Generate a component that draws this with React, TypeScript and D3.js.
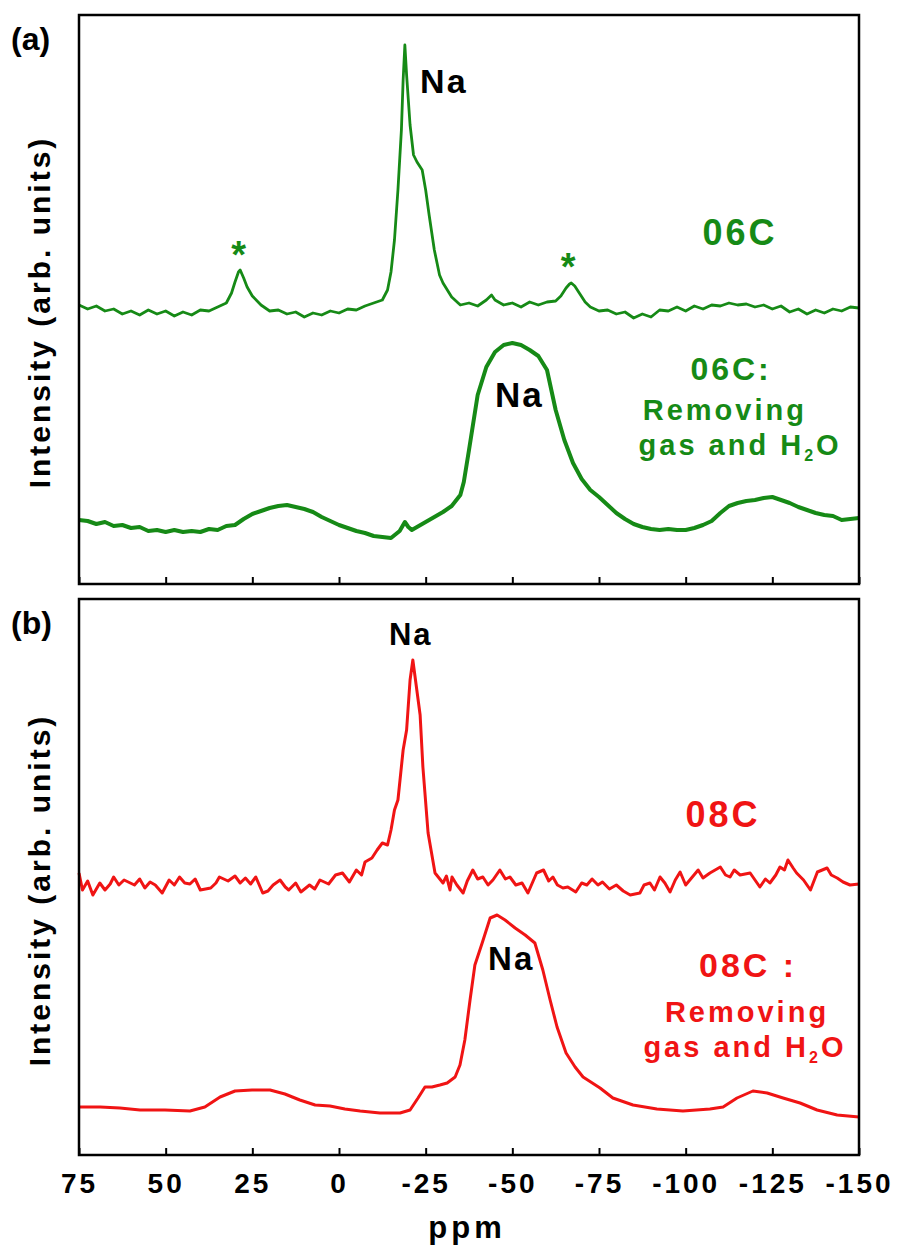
import React, { useEffect, useRef } from 'react';
import * as d3 from 'd3';

// x ticks (ppm)
const ppmTicks = [75, 50, 25, 0, -25, -50, -75, -100, -125, -150];

// panel (a) : 06C as prepared, [ppm, intensity]
const s06C = [
  [75, 279], [72.5, 275], [70, 278], [67.5, 273], [65, 275], [62.5, 270], [60, 273], [57.5, 269],
  [55, 274], [52.5, 270], [50, 273], [47.5, 268], [45, 272], [42.5, 269], [40, 274], [37.5, 273],
  [35, 277], [32.5, 281], [31, 291], [30, 302], [29, 312], [28.5, 314], [27.5, 306], [26.5, 297],
  [25, 288], [22.5, 279], [20, 273], [17.5, 274], [15, 270], [12.5, 272], [10, 267], [7.5, 271],
  [5, 269], [2.5, 273], [0, 271], [-2.5, 275], [-5, 274], [-7.5, 278], [-10, 281], [-12.5, 284],
  [-14, 294], [-15, 312], [-16, 344], [-17, 394], [-18, 454], [-18.5, 504], [-19, 539], [-19.5, 509],
  [-20.5, 459], [-21.5, 429], [-22.5, 422], [-24, 414], [-25, 394], [-26, 369], [-27.5, 334], [-29, 309],
  [-30, 301], [-32.5, 287], [-35, 279], [-37.5, 281], [-40, 278], [-42.5, 284], [-44, 289], [-45, 284],
  [-47.5, 279], [-50, 281], [-52.5, 277], [-55, 282], [-57.5, 279], [-60, 282], [-62.5, 283], [-64, 288],
  [-65.5, 296], [-66.5, 300], [-67, 301], [-68, 298], [-69.5, 290], [-71, 282], [-72.5, 277], [-75, 273],
  [-77.5, 274], [-80, 270], [-82.5, 272], [-85, 266], [-87.5, 270], [-90, 267], [-92.5, 274], [-95, 273],
  [-97.5, 277], [-100, 273], [-102.5, 278], [-105, 275], [-107.5, 279], [-110, 278], [-112.5, 281], [-115, 279],
  [-117.5, 280], [-120, 277], [-122.5, 279], [-125, 275], [-127.5, 278], [-130, 272], [-132.5, 275], [-135, 270],
  [-137.5, 274], [-140, 271], [-142.5, 275], [-145, 273], [-147.5, 277], [-150, 276],
];

// panel (a) : 06C after removing gas and H2O
const s06CDry = [
  [75, 64], [72.5, 63], [70, 60], [67.5, 62], [65, 58], [62.5, 59], [60, 56], [57.5, 57],
  [55, 53], [52.5, 54], [50, 52], [47.5, 54], [45, 52], [42.5, 53], [40, 52], [37.5, 55],
  [35, 54], [32.5, 58], [30, 59], [27.5, 65], [25, 70], [22.5, 73], [20, 76], [17.5, 78],
  [15, 79], [12.5, 77], [10, 75], [7.5, 72], [5, 67], [2.5, 63], [0, 59], [-2.5, 56],
  [-5, 53], [-7.5, 51], [-10, 48], [-12.5, 47], [-15, 46], [-17.5, 53], [-19, 62], [-20, 57],
  [-21, 54], [-22.5, 57], [-25, 62], [-27.5, 67], [-30, 72], [-32.5, 78], [-35, 89], [-36, 102],
  [-37.5, 134], [-40, 189], [-42.5, 217], [-45, 232], [-47.5, 239], [-50, 241], [-52.5, 239], [-55, 234],
  [-57.5, 228], [-60, 214], [-62.5, 174], [-65, 144], [-67.5, 121], [-70, 105], [-72.5, 94], [-75, 87],
  [-77.5, 79], [-80, 71], [-82.5, 65], [-85, 60], [-87.5, 57], [-90, 55], [-92.5, 54], [-95, 55],
  [-97.5, 54], [-100, 54], [-102.5, 56], [-105, 59], [-107.5, 63], [-110, 71], [-112.5, 78], [-115, 81],
  [-117.5, 83], [-120, 84], [-122.5, 86], [-125, 87], [-127.5, 84], [-130, 81], [-132.5, 77], [-135, 74],
  [-137.5, 71], [-140, 69], [-142.5, 68], [-145, 64], [-147.5, 65], [-150, 66],
];

// panel (b) : 08C as prepared
const s08C = [
  [75, 282], [74, 265], [72.5, 274], [71, 260], [69, 272], [67.5, 265], [66, 271], [65, 278], [63.5, 270], [62, 275], [59, 270],
  [57.5, 276], [56, 267], [54.5, 273], [53, 270], [51, 262], [49, 275], [47.5, 270], [46, 278], [44.5, 272], [43, 271], [41.5, 276], [40, 265], [37, 267],
  [35.5, 272], [34.5, 278], [32, 274], [30, 279], [28.5, 272], [27, 277], [25.5, 271], [24, 278], [22, 262], [20.5, 264], [19, 270], [17, 275], [15.5, 268], [14.5, 265],
  [12.5, 272], [11, 263], [8.5, 270], [7, 266], [5.5, 275], [3, 271], [1, 280], [-1, 282], [-3, 273], [-5, 285], [-6.5, 280], [-7.5, 293],
  [-9.5, 297], [-11, 305], [-12.5, 312], [-14, 310], [-15, 325], [-16, 345], [-17, 355], [-18.5, 405],
  [-19.5, 425], [-20.5, 475], [-21.3, 495], [-23.4, 440], [-24.2, 388], [-25.7, 322], [-27.7, 282], [-30, 272],
  [-31, 279], [-32, 265], [-32.6, 278], [-34, 270], [-35.8, 262], [-37, 274], [-38.6, 285], [-40, 276], [-41.5, 278], [-43, 270], [-44.4, 275], [-46.4, 285], [-48, 276], [-49.3, 278],
  [-51, 270], [-52.8, 272], [-54.5, 262], [-57, 282], [-59, 285], [-60.5, 274], [-61.7, 278], [-63, 270], [-64.6, 267], [-66, 268], [-68.3, 263],
  [-70, 272], [-71.5, 270], [-73, 276], [-74.7, 270], [-76, 273], [-78, 266], [-80, 270], [-82, 264], [-84, 260], [-86.8, 262], [-88, 270], [-89.7, 272], [-91, 265], [-92.6, 278],
  [-94, 272], [-95.5, 263], [-97, 275], [-98.4, 283], [-100, 270], [-101.2, 275], [-103.6, 285], [-105, 277], [-107, 282], [-110, 288], [-111.5, 280], [-112.8, 278], [-114, 285], [-115.7, 280],
  [-118.6, 282], [-120, 275], [-121.4, 268], [-123, 276], [-124.3, 272], [-126, 280], [-127.2, 288], [-128.5, 285], [-129.5, 295], [-131, 287], [-132, 282], [-134, 275], [-136, 265],
  [-138, 283], [-140.8, 287], [-142, 280], [-143.7, 277], [-145.4, 273], [-147.4, 270], [-150, 271],
];

// panel (b) : 08C after removing gas and H2O
const s08CDry = [
  [75, 48], [68.9, 48], [63.2, 47], [57.4, 45], [50.2, 45], [43, 44], [38.7, 48], [34.3, 58],
  [30, 64], [25.1, 65], [19.9, 65], [15.6, 61], [11.3, 55], [6.9, 50], [2.6, 49], [-1.7, 46],
  [-6.1, 44], [-11.8, 42], [-17.6, 42], [-20.5, 45], [-22.8, 57], [-24.8, 68], [-26.8, 68], [-29.1, 70],
  [-31.2, 72], [-33.5, 78], [-34.9, 90], [-36.3, 115], [-37.8, 155], [-39.2, 190], [-41.3, 212], [-43.6, 237],
  [-45.6, 240], [-47.9, 235], [-50.8, 227], [-53.7, 220], [-56.5, 212], [-58.8, 185], [-60.9, 155], [-62.9, 128],
  [-65.5, 102], [-68.1, 88], [-70.4, 78], [-75.3, 67], [-79, 57], [-84.8, 50], [-91.7, 46], [-99.2, 44],
  [-107, 46], [-110.8, 48], [-114.8, 57], [-119.4, 64], [-123.5, 62], [-128.1, 57], [-133, 52], [-137.9, 45],
  [-143.7, 40], [-150, 38],
];

// annotations, placed in data coordinates [ppm, intensity]
const notesA = [
  { text: 'Na', ppm: -23.4, v: 491, size: 34, color: '#000', anchor: 'start' },
  { text: '*', ppm: 28.5, v: 316, size: 38, color: 'green', anchor: 'middle' },
  { text: '*', ppm: -66.5, v: 304, size: 38, color: 'green', anchor: 'middle' },
  { text: '06C', ppm: -115.7, v: 339, size: 36, color: 'green', anchor: 'middle' },
  { text: '06C:', ppm: -113.1, v: 204, size: 32, color: 'green', anchor: 'middle' },
  { text: 'Removing', ppm: -111.3, v: 164, size: 29, color: 'green', anchor: 'middle' },
  { text: 'H2O', ppm: -115.7, v: 129, size: 29, color: 'green', anchor: 'middle' },
  { text: 'Na', ppm: -45, v: 177, size: 35, color: '#000', anchor: 'start' },
];
const notesB = [
  { text: 'Na', ppm: -14.4, v: 510, size: 31, color: '#000', anchor: 'start' },
  { text: '08C', ppm: -110.8, v: 328, size: 36, color: 'red', anchor: 'middle' },
  { text: '08C :', ppm: -118, v: 178, size: 34, color: 'red', anchor: 'middle' },
  { text: 'Removing', ppm: -117.7, v: 133, size: 29, color: 'red', anchor: 'middle' },
  { text: 'H2O', ppm: -117.1, v: 98, size: 29, color: 'red', anchor: 'middle' },
  { text: 'Na', ppm: -43, v: 185, size: 33, color: '#000', anchor: 'start' },
];

const COLORS = { green: '#168a16', red: '#f01414' };
const FONT = '"Liberation Sans", Arial, Helvetica, sans-serif';

const App = () => {
  const svgRef = useRef();

  useEffect(() => {
    const svg = d3.select(svgRef.current);
    svg.selectAll('*').remove();

    const left = 79;
    const right = 859;

    const x = d3.scaleLinear().domain([75, -150]).range([left, right]);

    const panels = [
      { tag: '(a)', top: 15, bottom: 584, yMax: 569, labelY: 312,
        series: [{ data: s06C, color: COLORS.green, width: 2.8 }, { data: s06CDry, color: COLORS.green, width: 4 }],
        notes: notesA, showLabels: false },
      { tag: '(b)', top: 599, bottom: 1155, yMax: 556, labelY: 890,
        series: [{ data: s08C, color: COLORS.red, width: 3 }, { data: s08CDry, color: COLORS.red, width: 3 }],
        notes: notesB, showLabels: true },
    ];

    panels.forEach(p => {
      const y = d3.scaleLinear().domain([0, p.yMax]).range([p.bottom, p.top]);
      const g = svg.append('g');

      // curves
      const line = d3.line()
        .x(d => x(d[0]))
        .y(d => y(d[1]));

      p.series.forEach(s => {
        g.append('path')
          .datum(s.data)
          .attr('fill', 'none')
          .attr('stroke', s.color)
          .attr('stroke-width', s.width)
          .attr('stroke-linejoin', 'round')
          .attr('d', line);
      });

      // bottom axis, ticks pointing inward
      const axis = g.append('g')
        .attr('transform', `translate(0,${p.bottom})`)
        .call(d3.axisBottom(x)
          .tickValues(ppmTicks)
          .tickSizeInner(-7)
          .tickSizeOuter(0)
          .tickPadding(18)
          .tickFormat(p.showLabels ? d3.format('d') : () => ''));
      axis.select('.domain').remove();
      axis.selectAll('line').attr('stroke', '#000').attr('stroke-width', 2);
      axis.selectAll('text')
        .attr('fill', '#000')
        .style('font-family', FONT)
        .style('font-weight', 'bold')
        .style('font-size', '28px')
        .style('letter-spacing', '3px')
        .text(d => (p.showLabels ? String(d) : ''));

      // frame
      g.append('rect')
        .attr('x', left)
        .attr('y', p.top)
        .attr('width', right - left)
        .attr('height', p.bottom - p.top)
        .attr('fill', 'none')
        .attr('stroke', '#000')
        .attr('stroke-width', 2.5);

      // panel tag
      g.append('text')
        .attr('x', 11)
        .attr('y', p.top + 35)
        .style('font-family', FONT)
        .style('font-weight', 'bold')
        .style('font-size', '32px')
        .text(p.tag);

      // y axis label
      g.append('text')
        .attr('transform', `translate(50,${p.labelY}) rotate(-90)`)
        .attr('text-anchor', 'middle')
        .style('font-family', FONT)
        .style('font-weight', 'bold')
        .style('font-size', '30px')
        .style('letter-spacing', '3px')
        .text('Intensity (arb. units)');

      // annotations
      p.notes.forEach(n => {
        const t = g.append('text')
          .attr('x', x(n.ppm))
          .attr('y', y(n.v))
          .attr('text-anchor', n.anchor)
          .attr('fill', COLORS[n.color] || n.color)
          .style('font-family', FONT)
          .style('font-weight', 'bold')
          .style('font-size', `${n.size}px`)
          .style('letter-spacing', n.text === 'Na' ? '2px' : '3px');
        if (n.text === 'H2O') {
          t.append('tspan').text('gas and H');
          t.append('tspan').attr('dy', 6).style('font-size', '16px').text('2');
          t.append('tspan').attr('dy', -6).text('O');
        } else {
          t.text(n.text);
        }
      });
    });

    // x axis title
    svg.append('text')
      .attr('x', 467)
      .attr('y', 1238)
      .attr('text-anchor', 'middle')
      .style('font-family', FONT)
      .style('font-weight', 'bold')
      .style('font-size', '31px')
      .style('letter-spacing', '4px')
      .text('ppm');
  }, []);

  return (
    <svg ref={svgRef} width="899" height="1258"
      style={{ position: 'absolute', left: 0, top: 0, background: '#fff' }}></svg>
  );
};

export default App;
